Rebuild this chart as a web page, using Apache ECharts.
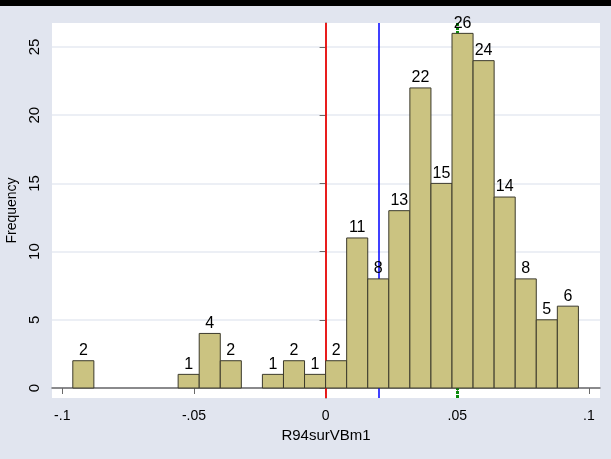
<!DOCTYPE html>
<html>
<head>
<meta charset="utf-8">
<script src="https://cdn.jsdelivr.net/npm/echarts@6/dist/echarts.min.js"></script>
<style>
html,body{margin:0;padding:0;background:#e1e5ef;}
#topbar{position:absolute;left:0;top:0;width:611px;height:6px;background:#000;}
#chart{position:absolute;left:0;top:0;width:611px;height:459px;}
</style>
</head>
<body>
<div id="chart"></div>
<div id="topbar"></div>
<script>
// ---- data ----
const binStart = -0.096;
const binWidth = 0.008;
const counts = [2,0,0,0,0,1,4,2,0,1,2,1,2,11,8,13,22,15,26,24,14,8,5,6];
const xTicks = [-0.1, -0.05, 0, 0.05, 0.1];
const xTickLabels = ['-.1', '-.05', '0', '.05', '.1'];
const yTicks = [0, 5, 10, 15, 20, 25];
const refLines = [0, 0.0209];      // red, blue
const meanLine = 0.0489;           // green
const xTitle = 'R94surVBm1';
const yTitle = 'Frequency';

const bins = counts.map((c, i) => [binStart + i * binWidth, binStart + (i + 1) * binWidth, c]);

const FONT = 'Liberation Sans, Arial, Helvetica, sans-serif';
const chart = echarts.init(document.getElementById('chart'), null, {renderer: 'canvas'});

chart.setOption({
  animation: false,
  backgroundColor: '#e1e5ef',
  grid: {left: 52, right: 11, top: 23, bottom: 61, show: true, backgroundColor: '#ffffff', borderWidth: 0,
         outerBoundsMode: 'none', containLabel: false},
  xAxis: {
    type: 'value', min: -0.1039, max: 0.1042,
    axisLine: {show: true, lineStyle: {color: '#6a6a6a', width: 1.5}},
    axisTick: {show: true, length: 6, lineStyle: {color: '#6a6a6a'}, customValues: xTicks},
    axisLabel: {customValues: xTicks, margin: 11, color: '#000', fontFamily: FONT, fontSize: 14,
      formatter: v => { const i = xTicks.findIndex(t => Math.abs(t - v) < 1e-9); return i >= 0 ? xTickLabels[i] : ''; }},
    splitLine: {show: false},
    name: xTitle, nameLocation: 'middle', nameGap: 25,
    nameTextStyle: {color: '#000', fontFamily: FONT, fontSize: 15}
  },
  yAxis: {
    type: 'value', min: -0.733, max: 26.76,
    axisLine: {show: true, lineStyle: {color: '#6a6a6a', width: 1.5}},
    axisTick: {show: true, length: 6, lineStyle: {color: '#6a6a6a'}, customValues: yTicks},
    axisLabel: {customValues: yTicks, rotate: 90, margin: 10, color: '#000', fontFamily: FONT, fontSize: 15},
    splitLine: {show: true, lineStyle: {color: '#e6eaf2', width: 1.5}},
    name: yTitle, nameLocation: 'middle', nameGap: 27, nameRotate: 90,
    nameTextStyle: {color: '#000', fontFamily: FONT, fontSize: 14}
  },
  series: [
    {
      type: 'line', data: [], z: 1, silent: true,
      markLine: {
        silent: true, symbol: ['none', 'none'], label: {show: false},
        data: [
          {xAxis: refLines[0], lineStyle: {color: '#ff0000', width: 1.6, type: 'solid'}},
          {xAxis: refLines[1], lineStyle: {color: '#0000ff', width: 1.5, type: 'solid'}},
          {xAxis: meanLine, lineStyle: {color: '#0a8a0a', width: 3, type: [3, 1]}}
        ]
      }
    },
    {
      type: 'custom', z: 5,
      data: bins,
      renderItem: function (params, api) {
        const c = api.value(2);
        if (!c) return;
        const p0 = api.coord([api.value(0), c]);
        const p1 = api.coord([api.value(1), 0]);
        return {
          type: 'group',
          children: [
            {type: 'rect', shape: {x: p0[0], y: p0[1], width: p1[0] - p0[0], height: p1[1] - p0[1]},
             style: {fill: '#cbc381', stroke: '#3c3a2c', lineWidth: 1}},
            {type: 'text', style: {text: String(c), x: (p0[0] + p1[0]) / 2, y: p0[1] - 2,
              align: 'center', verticalAlign: 'bottom', fill: '#000', font: '16px ' + FONT}}
          ]
        };
      }
    }
  ]
});
</script>
</body>
</html>
